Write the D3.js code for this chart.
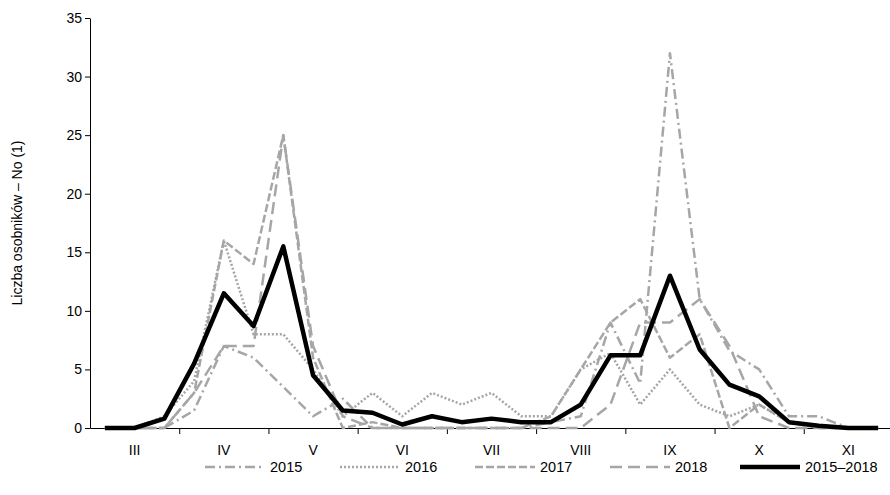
<!DOCTYPE html>
<html><head><meta charset="utf-8">
<script src="https://cdn.jsdelivr.net/npm/d3@7"></script>
<style>body{margin:0;background:#fff}text{font-family:"Liberation Sans",Arial,sans-serif}</style>
</head><body><svg id="c" width="890" height="495"></svg>
<script>
const months = ["III","IV","V","VI","VII","VIII","IX","X","XI"];
const y2015 = [0,0,0,1.5,7,6,3.5,1,2.5,0,0,0,0,0,0,0.5,1,9,3.8,32,11,6.6,5,1,1,0,0];
const y2016 = [0,0,1,4,16,8,8,5,1,3,1,3,2,3,1,1,5,6.4,2,5,2,1,2,0.5,0,0,0];
const y2017 = [0,0,0,3,16,14,25,6,0,0.5,0,0,0,0,0,1,5,9,11,6,8,0,2,0.5,0,0,0];
const y2018 = [0,0,0,3,7,7,25,7,1,0,0,0,0,0,0,0,0,2,9,9,11,7,1,0,0,0,0];
const yMean = [0,0,0.8,5.5,11.5,8.7,15.5,4.5,1.5,1.3,0.3,1,0.5,0.8,0.5,0.5,2,6.2,6.2,13,6.7,3.7,2.7,0.5,0.2,0,0];

const series = [
  {name:"2015", v:y2015, dash:"10,4,2,4", w:2.5, c:"#a6a6a6"},
  {name:"2016", v:y2016, dash:"2,2", w:2.5, c:"#a6a6a6"},
  {name:"2017", v:y2017, dash:"8,3", w:2.5, c:"#a6a6a6"},
  {name:"2018", v:y2018, dash:"12,6", w:2.5, c:"#a6a6a6"},
  {name:"2015–2018", v:yMean, dash:null, w:4.5, c:"#000"}
];

const svg = d3.select("#c");
const L = 90, R = 893, T = 18, B = 428;
const x = d3.scaleLinear().domain([-0.5, 26.5]).range([L, R]);
const y = d3.scaleLinear().domain([0, 35]).range([B, T]);

svg.append("g").attr("transform", `translate(${L},0)`)
  .call(d3.axisLeft(y).ticks(7).tickSize(5).tickSizeOuter(0))
  .call(g => g.selectAll("text").attr("font-size", 14).attr("fill", "#000"));
const xa = svg.append("g").attr("transform", `translate(0,${B})`);
xa.call(d3.axisBottom(x).tickValues(d3.range(2.5, 26, 3)).tickSize(6).tickFormat("").tickSizeOuter(0));
xa.selectAll(".month").data(months).join("text").attr("class","month")
  .attr("x", (d, i) => x(i*3+1)).attr("y", 27).attr("text-anchor","middle")
  .attr("fill","#000").attr("font-size", 14).text(d => d);
svg.selectAll(".domain,.tick line").attr("stroke","#000");

svg.append("text").attr("transform", `translate(22,${(T+B)/2}) rotate(-90)`)
  .attr("text-anchor","middle").attr("font-size",14).text("Liczba osobników – No (1)");

const line = d3.line().x((d, i) => x(i)).y(d => y(d));
series.forEach(s => {
  svg.append("path").attr("d", line(s.v)).attr("fill","none")
    .attr("stroke", s.c).attr("stroke-width", s.w)
    .attr("stroke-dasharray", s.dash).attr("stroke-linejoin","round");
});

const lx = [205, 340, 475, 610, 740];
series.forEach((s, i) => {
  const g = svg.append("g").attr("transform", `translate(${lx[i]},467)`);
  g.append("line").attr("x1",0).attr("x2",60).attr("stroke", s.c)
    .attr("stroke-width", s.w).attr("stroke-dasharray", s.dash);
  g.append("text").attr("x",65).attr("y",5).attr("font-size",14.5).text(s.name);
});
</script></body></html>
